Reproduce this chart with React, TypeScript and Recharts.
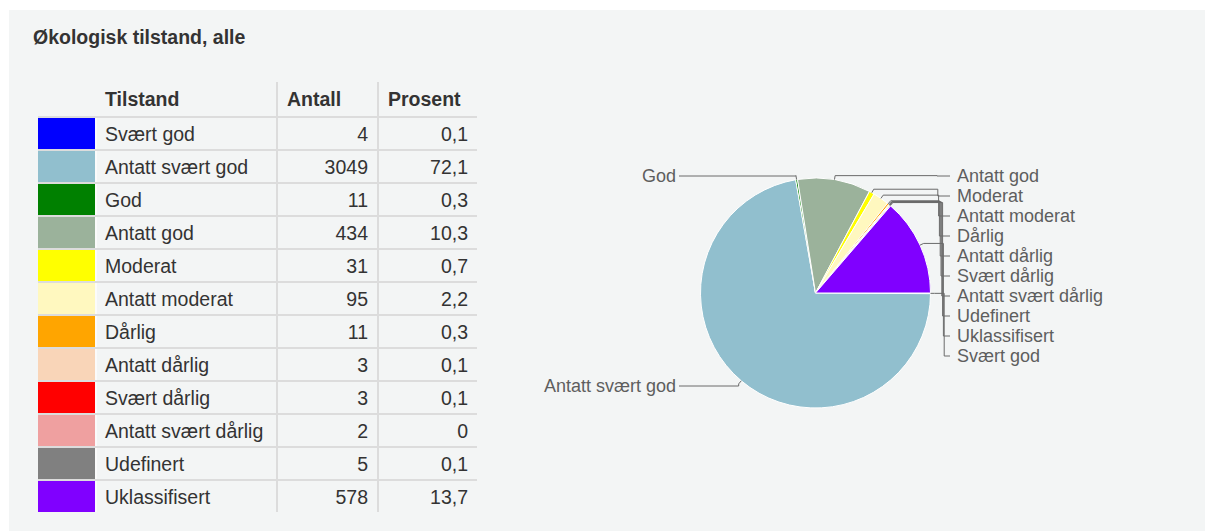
import React from 'react'
import { PieChart, Pie, Cell } from 'recharts'

const categories = [
  'Svært god',
  'Antatt svært god',
  'God',
  'Antatt god',
  'Moderat',
  'Antatt moderat',
  'Dårlig',
  'Antatt dårlig',
  'Svært dårlig',
  'Antatt svært dårlig',
  'Udefinert',
  'Uklassifisert',
]
const counts = [4, 3049, 11, 434, 31, 95, 11, 3, 3, 2, 5, 578]
const percents = [0.1, 72.1, 0.3, 10.3, 0.7, 2.2, 0.3, 0.1, 0.1, 0, 0.1, 13.7]
const colors = [
  '#0000ff',
  '#91bfce',
  '#008000',
  '#9bb29b',
  '#ffff00',
  '#fff8bf',
  '#ffa500',
  '#f9d5b8',
  '#ff0000',
  '#efa0a0',
  '#808080',
  '#8000ff',
]

const data = categories.map((name, i) => ({ name, value: counts[i] }))

const FONT = '"Liberation Sans", Arial, sans-serif'
const TEXT = '#333'
const SEP = '#dcdcdc'

// label placement for the pie (chart coordinates)
const RIGHT_ORDER = [
  'Antatt god',
  'Moderat',
  'Antatt moderat',
  'Dårlig',
  'Antatt dårlig',
  'Svært dårlig',
  'Antatt svært dårlig',
  'Udefinert',
  'Uklassifisert',
  'Svært god',
]
const LEFT_Y: Record<string, number> = { God: 166, 'Antatt svært god': 376 }
const RAD = Math.PI / 180

function renderLabel(props: any) {
  const { cx, cy, midAngle, outerRadius, index } = props
  const name = categories[index]
  const cos = Math.cos(-midAngle * RAD)
  const sin = Math.sin(-midAngle * RAD)
  const ax = cx + outerRadius * cos
  const ay = cy + outerRadius * sin
  const bx = cx + (outerRadius + 4) * cos
  const by = cy + (outerRadius + 4) * sin

  if (name in LEFT_Y) {
    const ly = LEFT_Y[name]
    const d = `M${ax},${ay}L${bx},${by}L${bx},${ly}L670,${ly}`
    return (
      <g key={`lbl-${index}`}>
        <path d={d} fill="none" stroke="#6a6a6a" strokeWidth={1} />
        <text x={667} y={ly} dy="0.35em" textAnchor="end" fill="#5e5e5e" fontSize={18} fontFamily={FONT}>
          {name}
        </text>
      </g>
    )
  }

  const k = RIGHT_ORDER.indexOf(name)
  const ly = 166 + 20 * k
  const colX = Math.max(bx, 928 + 0.8 * k)
  const d = `M${ax},${ay}L${bx},${by}L${colX},${by}L${colX},${ly}L941,${ly}`
  return (
    <g key={`lbl-${index}`}>
      <path d={d} fill="none" stroke="#6a6a6a" strokeWidth={1} />
      <text x={948} y={ly} dy="0.35em" textAnchor="start" fill="#5e5e5e" fontSize={18} fontFamily={FONT}>
        {name}
      </text>
    </g>
  )
}

const COLS = [57, 179, 99, 98]

function cellStyle(width: number, extra: React.CSSProperties = {}): React.CSSProperties {
  return {
    width,
    display: 'flex',
    alignItems: 'center',
    boxSizing: 'border-box',
    ...extra,
  }
}

function LegendTable() {
  return (
    <div
      style={{
        position: 'absolute',
        left: 29,
        top: 72,
        fontFamily: FONT,
        fontSize: 19.5,
        color: TEXT,
      }}
    >
      <div style={{ display: 'flex', height: 34, fontWeight: 'bold' }}>
        <div style={cellStyle(COLS[0] + 2)} />
        <div style={cellStyle(COLS[1], { paddingLeft: 8 })}>Tilstand</div>
        <div style={cellStyle(COLS[2] + 2, { paddingLeft: 9, borderLeft: `2px solid ${SEP}` })}>Antall</div>
        <div style={cellStyle(COLS[3] + 2, { paddingLeft: 9, borderLeft: `2px solid ${SEP}` })}>Prosent</div>
      </div>
      {categories.map((name, i) => (
        <div key={name} style={{ display: 'flex', height: 33, borderTop: `2px solid ${SEP}`, boxSizing: 'border-box' }}>
          <div style={cellStyle(COLS[0], { background: colors[i] })} />
          <div style={cellStyle(COLS[1] + 2, { paddingLeft: 8, borderLeft: '2px solid #fbfbfb', paddingTop: 1 })}>
            {name}
          </div>
          <div
            style={cellStyle(COLS[2] + 2, {
              justifyContent: 'flex-end',
              paddingRight: 9,
              borderLeft: `2px solid ${SEP}`,
              paddingTop: 1,
            })}
          >
            {counts[i]}
          </div>
          <div
            style={cellStyle(COLS[3] + 2, {
              justifyContent: 'flex-end',
              paddingRight: 9,
              borderLeft: `2px solid ${SEP}`,
              paddingTop: 1,
            })}
          >
            {String(percents[i]).replace('.', ',')}
          </div>
        </div>
      ))}
    </div>
  )
}

export default function App() {
  return (
    <div
      style={{
        position: 'fixed',
        left: 9,
        top: 10,
        width: 1196,
        height: 521,
        background: '#f3f5f5',
        fontFamily: FONT,
      }}
    >
      <div
        style={{
          position: 'absolute',
          left: 24,
          top: 17,
          fontSize: 19.5,
          lineHeight: '20px',
          fontWeight: 'bold',
          color: TEXT,
        }}
      >
        Økologisk tilstand, alle
      </div>
      <LegendTable />
      <div style={{ position: 'absolute', left: 0, top: 0 }}>
        <PieChart width={1196} height={521} margin={{ top: 0, right: 0, bottom: 0, left: 0 }}>
          <Pie
            data={data}
            dataKey="value"
            nameKey="name"
            cx={806.5}
            cy={283}
            outerRadius={115}
            startAngle={0}
            endAngle={-360}
            stroke="#ffffff"
            strokeWidth={1}
            label={renderLabel}
            labelLine={false}
            isAnimationActive={false}
          >
            {data.map((d, i) => (
              <Cell key={d.name} fill={colors[i]} />
            ))}
          </Pie>
        </PieChart>
      </div>
    </div>
  )
}
